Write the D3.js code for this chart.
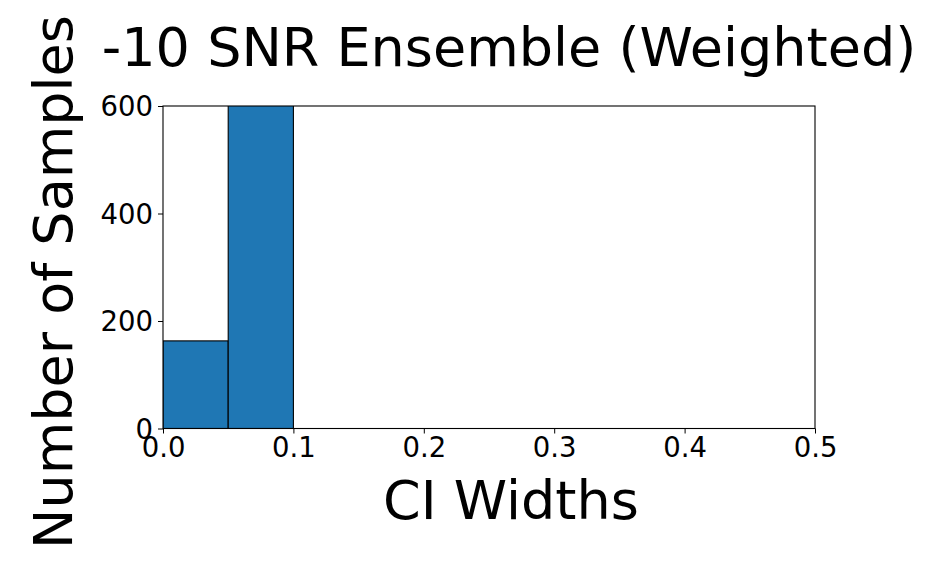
<!DOCTYPE html>
<html>
<head>
<meta charset="utf-8">
<script src="https://cdn.jsdelivr.net/npm/d3@7"></script>
<style>
  body { margin: 0; background: #fff; }
  text { font-family: "DejaVu Sans", sans-serif; fill: #000; }
</style>
</head>
<body>
<svg id="chart" width="925" height="561"></svg>
<script>
// histogram bins (left edges) and counts
var binStarts = [0.0, 0.05]
var binEnds = [0.05, 0.1]
var counts = [163, 630]   // second bin runs past the top of the axes
var xTicks = [0.0, 0.1, 0.2, 0.3, 0.4, 0.5]
var yTicks = [0, 200, 400, 600]

var svg = d3.select("#chart"),
    margin = { top: 106, left: 163, bottom: 561 - 428.5, right: 925 - 815 },
    width = 925,
    height = 561

var x = d3.scaleLinear()
    .domain([0, 0.5])
    .range([margin.left, width - margin.right])

var y = d3.scaleLinear()
    .domain([0, 600])
    .range([height - margin.bottom, margin.top])

svg.append("clipPath").attr("id", "plot-clip")
    .append("rect")
    .attr("x", margin.left).attr("y", margin.top)
    .attr("width", x(0.5) - x(0))
    .attr("height", y(0) - y(600))

var bins = counts.map((c, i) => ({ x0: binStarts[i], x1: binEnds[i], n: c }))

svg.append("g")
    .attr("clip-path", "url(#plot-clip)")
    .selectAll("rect")
    .data(bins)
    .enter()
    .append("rect")
    .attr("x", d => x(d.x0))
    .attr("y", d => y(d.n))
    .attr("width", d => x(d.x1) - x(d.x0))
    .attr("height", d => y(0) - y(d.n))
    .attr("fill", "#1f77b4")
    .attr("stroke", "#000")
    .attr("stroke-width", 1.1)

// frame (spines)
svg.append("rect")
    .attr("x", margin.left).attr("y", margin.top)
    .attr("width", x(0.5) - x(0))
    .attr("height", y(0) - y(600))
    .attr("fill", "none")
    .attr("stroke", "#000")
    .attr("stroke-width", 1.1)

var xAxis = svg.append("g")
    .attr("transform", "translate(0," + y(0) + ")")
    .call(d3.axisBottom(x).tickValues(xTicks).tickFormat(d3.format(".1f")).tickSize(5).tickPadding(4).tickSizeOuter(0))
xAxis.select(".domain").remove()
xAxis.selectAll("text").style("font-size", "27.5px").style("font-family", "DejaVu Sans")

var yAxis = svg.append("g")
    .attr("transform", "translate(" + x(0) + ",0)")
    .call(d3.axisLeft(y).tickValues(yTicks).tickSize(5).tickPadding(5).tickSizeOuter(0))
yAxis.select(".domain").remove()
yAxis.selectAll("text").style("font-size", "27.5px").style("font-family", "DejaVu Sans")
    .attr("dy", "0.36em")

svg.append("text")
    .attr("x", 509)
    .attr("y", 66)
    .attr("text-anchor", "middle")
    .style("font-size", "54px")
    .text("-10 SNR Ensemble (Weighted)")

svg.append("text")
    .attr("x", 511)
    .attr("y", 519)
    .attr("text-anchor", "middle")
    .style("font-size", "54px")
    .text("CI Widths")

svg.append("text")
    .attr("transform", "translate(72,282) rotate(-90)")
    .attr("text-anchor", "middle")
    .style("font-size", "54px")
    .text("Number of Samples")
</script>
</body>
</html>
